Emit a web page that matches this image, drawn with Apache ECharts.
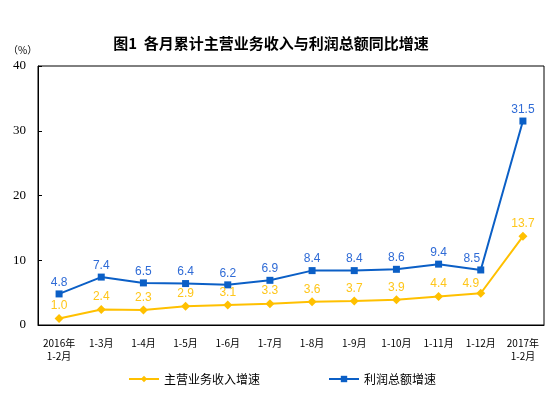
<!DOCTYPE html>
<html><head><meta charset="utf-8">
<script src="https://cdn.jsdelivr.net/npm/echarts@6/dist/echarts.min.js"></script>
<style>html,body{margin:0;padding:0;background:#fff}#c{width:551px;height:397px}</style>
</head><body><div id="c"></div>
<script>
const categories = ['2016年\n1-2月','1-3月','1-4月','1-5月','1-6月','1-7月','1-8月','1-9月','1-10月','1-11月','1-12月','2017年\n1-2月'];
const revenueGrowth = [1.0,2.4,2.3,2.9,3.1,3.3,3.6,3.7,3.9,4.4,4.9,13.7];
const profitGrowth = [4.8,7.4,6.5,6.4,6.2,6.9,8.4,8.4,8.6,9.4,8.5,31.5];
const yTicks = [0,10,20,30,40];

const yellow = '#FFC000';
const blue = '#0B5FC6';
function withLabelShift(values, idx, offset) {
  return values.map((v, i) => i === idx ? {value: v, label: {offset: offset}} : v);
}
const chart = echarts.init(document.getElementById('c'));
chart.setOption({
  animation: false,
  title: {
    text: '图1  各月累计主营业务收入与利润总额同比增速',
    left: 266, top: 31, textAlign: 'center',
    textStyle: {fontFamily: 'Noto Sans CJK SC', fontSize: 15, fontWeight: 'bold', color: '#000'}
  },
  graphic: [{type: 'text', left: 8, top: 45, style: {text: '（%）', font: '10px "Noto Sans CJK SC"', fill: '#000'}}],
  legend: {
    bottom: 7, left: 123, itemGap: 68, itemWidth: 30, itemHeight: 8,
    textStyle: {fontFamily: 'Noto Sans CJK SC', fontSize: 12, color: '#000'},
    data: ['主营业务收入增速','利润总额增速']
  },
  grid: {left: 38, right: 7, top: 66, bottom: 72, show: true, borderColor: '#000', borderWidth: 1, containLabel: false},
  xAxis: {
    type: 'category', data: categories, boundaryGap: true,
    axisLine: {lineStyle: {color: '#000'}},
    axisTick: {inside: true, length: 4, lineStyle: {color: '#000'}},
    axisLabel: {interval: 0, fontFamily: 'Noto Sans CJK SC', fontSize: 10, color: '#000', margin: 12, lineHeight: 13}
  },
  yAxis: {
    type: 'value', min: yTicks[0], max: yTicks[yTicks.length-1], interval: 10,
    splitLine: {show: false},
    axisLine: {show: true, lineStyle: {color: '#000'}},
    axisTick: {show: true, inside: true, length: 4, lineStyle: {color: '#000'}},
    axisLabel: {fontFamily: 'Liberation Serif', fontSize: 13, color: '#000', margin: 12}
  },
  series: [
    {
      name: '主营业务收入增速', type: 'line', data: withLabelShift(revenueGrowth, 10, [-10, 3]),
      symbol: 'diamond', symbolSize: 9, showAllSymbol: true,
      lineStyle: {color: yellow, width: 2}, itemStyle: {color: yellow},
      label: {show: true, position: 'top', distance: 2, color: '#FFC61A', fontFamily: 'Liberation Sans', fontSize: 12,
        formatter: p => Number(p.value).toFixed(1)}
    },
    {
      name: '利润总额增速', type: 'line', data: withLabelShift(profitGrowth, 10, [-9, 0]),
      symbol: 'rect', symbolSize: 7, showAllSymbol: true,
      lineStyle: {color: blue, width: 2}, itemStyle: {color: blue},
      label: {show: true, position: 'top', distance: 2, color: '#2F6BD6', fontFamily: 'Liberation Sans', fontSize: 12,
        formatter: p => Number(p.value).toFixed(1)}
    }
  ]
});
</script></body></html>
